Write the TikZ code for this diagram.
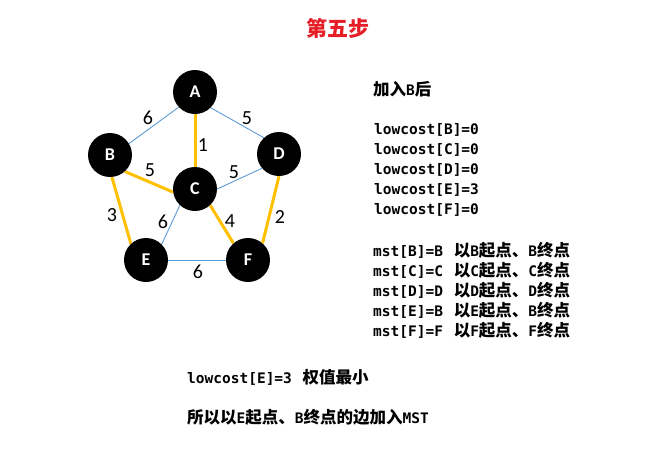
\documentclass[tikz,border=0pt]{standalone}
\usepackage{fontspec}
\setmainfont{Carlito}
\newfontfamily\cjk{Noto Sans CJK SC}
\newfontfamily\mono{DejaVu Sans Mono}
\usetikzlibrary{backgrounds}
\definecolor{edgeblue}{RGB}{91,155,213}
\definecolor{mstorange}{RGB}{255,192,0}
\definecolor{titlered}{RGB}{230,30,40}
\newcommand{\M}[1]{{\mono\bfseries #1}}
\newcommand{\C}[1]{{\fontsize{16.5}{16.5}\selectfont\cjk\bfseries #1}}
\begin{document}
\begin{tikzpicture}[x=1pt,y=-1pt,
  vtx/.style={circle,fill=black,minimum size=44pt,inner sep=0pt,text=white,font=\fontsize{18}{18}\selectfont\bfseries},
  thin edge/.style={draw=edgeblue,line width=0.9pt},
  mst edge/.style={draw=mstorange,line width=3pt},
  lbl/.style={font=\fontsize{20}{20}\selectfont,inner sep=0pt},
  txt/.style={anchor=west,inner sep=0pt,font=\fontsize{14.5}{14.5}\selectfont}]
\useasboundingbox (0,0) rectangle (657,448);
\node[font=\fontsize{21}{21}\selectfont\cjk\bfseries,text=titlered] (title) at (338,28) {第五步};
\node[vtx] (A) at (195,92) {A};
\node[vtx] (B) at (110,155) {B};
\node[vtx] (C) at (195,189) {C};
\node[vtx] (D) at (279,154) {D};
\node[vtx] (E) at (146,260) {E};
\node[vtx] (F) at (248,260) {F};
\begin{scope}[on background layer]
\draw[thin edge] (A.223) -- (B.31) node[lbl,at={(148,118)}] {6};
\draw[thin edge] (A.-45) -- (D.133) node[lbl,at={(247,118)}] {5};
\draw[mst edge] (A.south) -- (C.north) node[lbl,at={(203,145)}] {1};
\draw[mst edge] (B.-48) -- (C.188) node[lbl,at={(150,170)}] {5};
\draw[thin edge] (C.east) -- (D.-140) node[lbl,at={(234,172)}] {5};
\draw[mst edge] (B.-85) -- (E.133) node[lbl,at={(112,215)}] {3};
\draw[thin edge] (C.-133) -- (E.45) node[lbl,at={(163,222)}] {6};
\draw[mst edge] (C.-47) -- (F.131) node[lbl,at={(230,221)}] {4};
\draw[mst edge] (D.-90) -- (F.49) node[lbl,at={(280,217)}] {2};
\draw[thin edge] (E.east) -- (F.west) node[lbl,at={(198,272)}] {6};
\end{scope}
\node[txt] (t0) at (373,89) {\C{加入}\M{B}\C{后}};
\node[txt] (l1) at (374,130) {\M{lowcost[B]=0}};
\node[txt] (l2) at (374,150) {\M{lowcost[C]=0}};
\node[txt] (l3) at (374,170) {\M{lowcost[D]=0}};
\node[txt] (l4) at (374,190) {\M{lowcost[E]=3}};
\node[txt] (l5) at (374,210) {\M{lowcost[F]=0}};
\node[txt] (m1) at (373,250) {\M{mst[B]=B }\hspace{2pt}\C{以}\M{B}\C{起点、}\M{B}\C{终点}};
\node[txt] (m2) at (373,270) {\M{mst[C]=C }\hspace{2pt}\C{以}\M{C}\C{起点、}\M{C}\C{终点}};
\node[txt] (m3) at (373,290) {\M{mst[D]=D }\hspace{2pt}\C{以}\M{D}\C{起点、}\M{D}\C{终点}};
\node[txt] (m4) at (373,310) {\M{mst[E]=B }\hspace{2pt}\C{以}\M{E}\C{起点、}\M{B}\C{终点}};
\node[txt] (m5) at (373,330) {\M{mst[F]=F }\hspace{2pt}\C{以}\M{F}\C{起点、}\M{F}\C{终点}};
\node[txt] (b1) at (187,377) {\M{lowcost[E]=3 }\hspace{2pt}\C{权值最小}};
\node[txt] (b2) at (187,417) {\C{所以以}\M{E}\C{起点、}\M{B}\C{终点的边加入}\M{MST}};
\end{tikzpicture}
\end{document}
